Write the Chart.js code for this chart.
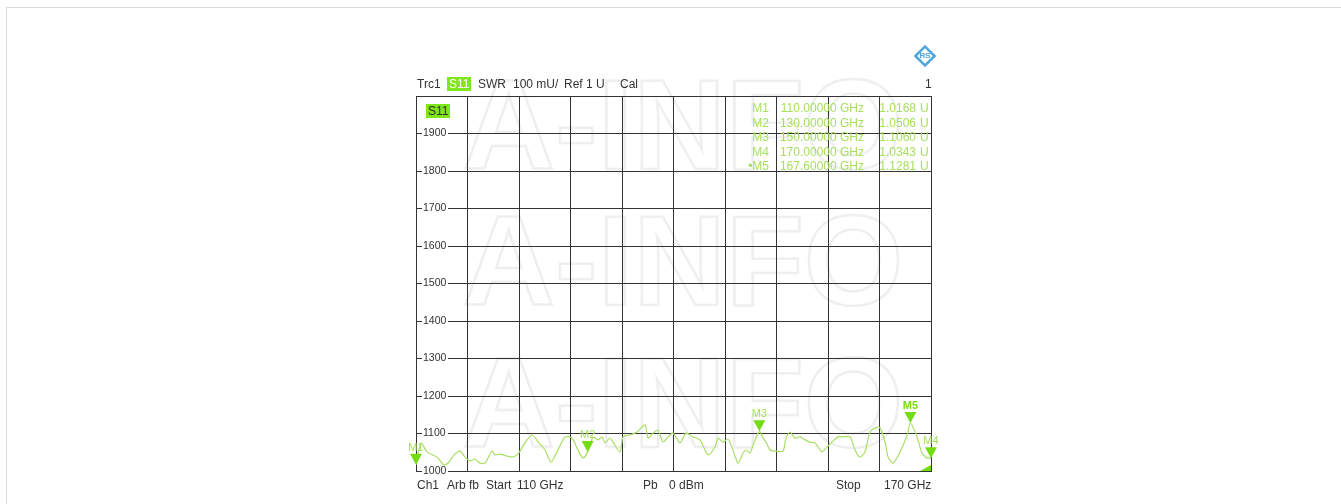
<!DOCTYPE html>
<html>
<head>
<meta charset="utf-8">
<script src="https://cdn.jsdelivr.net/npm/chart.js@4/dist/chart.umd.min.js"></script>
<style>
  body { margin: 0; background: #fff; font-family: "Liberation Sans", Arial, sans-serif; }
  #wrap { position: relative; width: 1341px; height: 504px; overflow: hidden; }
  #frame { position: absolute; left: 6px; top: 7px; width: 1400px; height: 600px; border: 1px solid #dcdcdc; }
  canvas { position: absolute; left: 0; top: 0; }
  .t { position: absolute; font-size: 12px; color: #333; white-space: pre; line-height: 14px; }
  .hl { background: #7ee619; color: #fff; padding: 0 2px; }
  .mk { position: absolute; font-size: 12px; color: #a6df5c; white-space: pre; line-height: 14px; }
</style>
</head>
<body>
<div id="wrap">
  <div id="frame"></div>
  <canvas id="vna" width="1341" height="504"></canvas>

  <div class="t" style="left:417px; top:77px;">Trc1</div>
  <div class="t hl" style="left:447px; top:77px;">S11</div>
  <div class="t" style="left:478px; top:77px;">SWR</div>
  <div class="t" style="left:513px; top:77px;">100 mU/</div>
  <div class="t" style="left:564px; top:77px;">Ref 1 U</div>
  <div class="t" style="left:620px; top:77px;">Cal</div>
  <div class="t" style="left:925px; top:77px;">1</div>

  <div class="t" style="left:426px; top:104px; background:#7ee619; padding:0 2px;">S11</div>

  <div class="t" style="left:417px; top:478px;">Ch1</div>
  <div class="t" style="left:447px; top:478px;">Arb fb</div>
  <div class="t" style="left:486px; top:478px;">Start</div>
  <div class="t" style="left:517px; top:478px;">110 GHz</div>
  <div class="t" style="left:643px; top:478px;">Pb</div>
  <div class="t" style="left:669px; top:478px;">0 dBm</div>
  <div class="t" style="left:836px; top:478px;">Stop</div>
  <div class="t" style="left:884px; top:478px;">170 GHz</div>

  <div id="mtable"></div>
</div>

<script>
// trace: S11 SWR, frequency in GHz, value in mU
const freqs = [110.00, 110.58, 111.28, 112.45, 113.26, 113.84, 114.43, 115.13, 115.71, 116.29,
  116.87, 117.46, 118.04, 118.85, 119.20, 119.79, 120.60, 121.18, 121.77, 122.12,
  122.70, 123.51, 124.33, 125.03, 125.73, 126.43, 127.36, 128.17, 128.87, 129.46,
  130.00, 130.62, 131.20, 131.67, 132.02, 132.60, 132.95, 133.77, 134.12, 134.93,
  135.75, 136.68, 137.03, 137.61, 138.19, 138.78, 139.36, 139.94, 140.76, 141.46,
  142.27, 143.09, 144.02, 144.83, 145.18, 145.77, 146.35, 146.93, 147.52, 148.10,
  148.45, 148.92, 149.26, 150.00, 150.43, 150.78, 151.24, 151.94, 152.76, 153.11,
  153.57, 154.16, 154.74, 155.32, 155.90, 156.49, 157.30, 157.88, 158.47, 159.17,
  159.75, 160.57, 161.15, 161.73, 162.32, 162.90, 163.72, 164.07, 164.65, 165.00,
  165.58, 166.40, 167.22, 167.60, 168.37, 168.95, 169.53, 170.00];
const swr = [1017, 1075, 1051, 1037, 1016, 1024, 1043, 1053, 1037, 1027,
  1032, 1021, 1021, 1053, 1043, 1045, 1040, 1037, 1043, 1053,
  1075, 1096, 1075, 1056, 1024, 1051, 1091, 1088, 1056, 1035,
  1051, 1091, 1083, 1091, 1075, 1088, 1077, 1051, 1091, 1096,
  1104, 1123, 1088, 1101, 1109, 1077, 1091, 1101, 1075, 1101,
  1091, 1083, 1043, 1064, 1088, 1077, 1085, 1056, 1021, 1048,
  1056, 1048, 1069, 1106, 1088, 1077, 1056, 1053, 1053, 1088,
  1104, 1088, 1091, 1083, 1077, 1075, 1051, 1064, 1077, 1091,
  1091, 1091, 1056, 1037, 1051, 1104, 1117, 1115, 1077, 1037,
  1021, 1051, 1096, 1128, 1091, 1048, 1035, 1034];

// markers
const markerNames = ['M1', 'M2', 'M3', 'M4', 'M5'];
const markerFreqs = [110, 130, 150, 170, 167.6];
const markerValues = [1016.8, 1050.6, 1106.0, 1034.3, 1128.1];
const activeMarker = 'M5';

// axes
const xMin = 110, xMax = 170;
const yMin = 1000, yMax = 2000, yStep = 100;

// marker table (top right)
const rowTop = 101, rowGap = 14.5;
let html = '';
markerNames.forEach((m, i) => {
    const top = rowTop + i * rowGap;
    const name = (m === activeMarker ? '\u2022' : '') + m;
    html += `<div class="mk" style="right:${1341 - 769}px; top:${top}px;">${name}</div>`;
    html += `<div class="mk" style="right:${1341 - 864}px; top:${top}px;">${markerFreqs[i].toFixed(5)} GHz</div>`;
    html += `<div class="mk" style="right:${1341 - 916}px; top:${top}px;">${(markerValues[i] / 1000).toFixed(4)}</div>`;
    html += `<div class="mk" style="left:920px; top:${top}px;">U</div>`;
});
document.getElementById('mtable').innerHTML = html;

const backdrop = {
    id: 'backdrop',
    beforeDraw(chart) {
        const ctx = chart.ctx;
        ctx.save();
        // watermark
        ctx.font = 'bold 128px "Liberation Sans", Arial, sans-serif';
        ctx.textAlign = 'center';
        ctx.textBaseline = 'middle';
        ctx.strokeStyle = '#efefef';
        ctx.lineWidth = 2.5;
        [134, 270, 412].forEach(y => ctx.strokeText('A-INFO', 683, y));
        // R&S logo
        ctx.translate(925, 56);
        ctx.rotate(Math.PI / 4);
        ctx.fillStyle = '#4ea6dc';
        ctx.fillRect(-8, -8, 16, 16);
        ctx.fillStyle = '#fff';
        ctx.fillRect(-5.5, -5.5, 11, 11);
        ctx.rotate(-Math.PI / 4);
        ctx.fillStyle = '#4ea6dc';
        ctx.font = 'bold 8px "Liberation Sans", Arial';
        ctx.fillText('RS', 0, 0);
        ctx.restore();
    }
};

const yLabels = {
    id: 'yLabels',
    beforeDatasetsDraw(chart) {
        const ctx = chart.ctx, ys = chart.scales.y, left = chart.chartArea.left;
        ctx.save();
        ctx.font = '10.5px "Liberation Sans", Arial, sans-serif';
        ctx.textBaseline = 'middle';
        ys.ticks.forEach(t => {
            if (t.value >= yMax) return;
            const y = ys.getPixelForValue(t.value);
            ctx.fillStyle = '#fff';
            ctx.fillRect(left + 6, y - 1, 26, 2);
            ctx.fillStyle = '#333';
            ctx.fillText(String(t.value), left + 7, y);
        });
        ctx.restore();
    }
};

const markerDraw = {
    id: 'markerDraw',
    afterDatasetsDraw(chart) {
        const ctx = chart.ctx, xs = chart.scales.x, ys = chart.scales.y;
        ctx.save();
        ctx.textAlign = 'center';
        ctx.textBaseline = 'middle';
        markerNames.forEach((m, i) => {
            const x = xs.getPixelForValue(markerFreqs[i]);
            const y = ys.getPixelForValue(markerValues[i]);
            ctx.fillStyle = '#74dd12';
            ctx.beginPath();
            ctx.moveTo(x - 6, y - 11);
            ctx.lineTo(x + 6, y - 11);
            ctx.lineTo(x, y);
            ctx.closePath();
            ctx.fill();
            const active = m === activeMarker;
            ctx.font = (active ? 'bold ' : '') + '11px "Liberation Sans", Arial, sans-serif';
            ctx.fillStyle = active ? '#74dd12' : '#a6df5c';
            ctx.fillText(m, x, y - 17);
        });
        // reference marker at bottom right corner
        const r = chart.chartArea;
        ctx.fillStyle = '#74dd12';
        ctx.beginPath();
        ctx.moveTo(r.right, r.bottom);
        ctx.lineTo(r.right, r.bottom - 6);
        ctx.lineTo(r.right - 11, r.bottom);
        ctx.closePath();
        ctx.fill();
        ctx.restore();
    }
};

const ctx = document.getElementById('vna').getContext('2d');
new Chart(ctx, {
    type: 'line',
    data: {
        datasets: [{
            label: 'S11 SWR',
            data: freqs.map((f, i) => ({ x: f, y: swr[i] })),
            borderColor: '#aade64',
            borderWidth: 1.2,
            pointRadius: 0,
            tension: 0.25,
            fill: false
        }]
    },
    options: {
        responsive: false,
        animation: false,
        devicePixelRatio: 1,
        layout: { padding: { left: 416, right: 410, top: 96, bottom: 33 } },
        scales: {
            x: {
                type: 'linear', min: xMin, max: xMax,
                ticks: { display: false, stepSize: (xMax - xMin) / 10 },
                grid: { color: '#333', lineWidth: 1, drawTicks: false },
                border: { color: '#333', width: 1 }
            },
            y: {
                min: yMin, max: yMax,
                ticks: { display: false, stepSize: yStep },
                grid: { color: '#333', lineWidth: 1, drawTicks: false },
                border: { color: '#333', width: 1 }
            }
        },
        plugins: {
            legend: { display: false },
            tooltip: { enabled: false }
        }
    },
    plugins: [backdrop, yLabels, markerDraw]
});
</script>
</body>
</html>
